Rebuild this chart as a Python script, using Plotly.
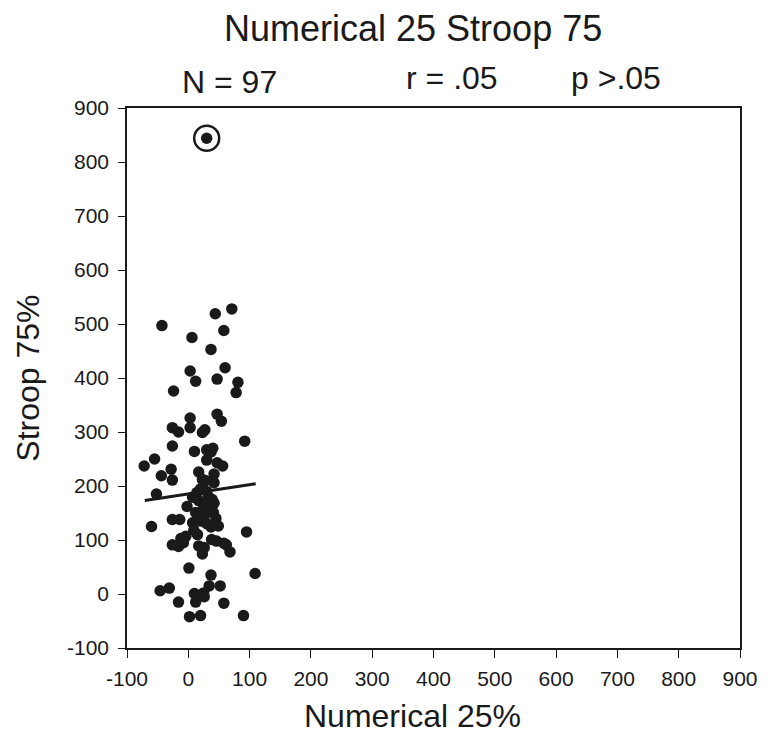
import plotly.graph_objects as go

numerical = [-43, 44, 71, 58, 6, 37, 3, 60, 12, 47, 81, 78, -24, 3, 47, 54, -26, -16, 3, 23, 27, 92,
             -26, 10, 30, 37, -55, -72, -28, -44, -26, 30, 47, 56, 17, 42, 23, 42, -52, 14, 7, 17, 33,
             39, 42, -2, 25, 12, 27, 41, 45, -26, -14, 7, -60, 37, 49, 9, 95, -4, -12, 38, 46, -26, -16,
             17, 26, 58, 62, 23, 68, 1, 37, 109, 34, 52, -46, -31, 10, 25, 26, 12, -16, 58, 2, 20, 90,
             20, 30, 35, 20, 30, -8, 15, 40, 28]
stroop = [497, 519, 528, 488, 475, 453, 413, 419, 394, 398, 392, 373, 376, 326, 333, 320, 308, 300, 308,
          299, 304, 283, 274, 264, 267, 263, 250, 237, 231, 219, 211, 248, 243, 237, 226, 222, 212, 206,
          185, 188, 179, 173, 180, 175, 168, 162, 163, 151, 146, 151, 140, 138, 138, 132, 125, 124, 126,
          118, 115, 107, 103, 101, 98, 91, 88, 89, 86, 94, 91, 74, 78, 48, 35, 38, 15, 15, 6, 11, 1, 2,
          -5, -15, -15, -17, -42, -40, -40, 195, 190, 160, 135, 130, 95, 110, 270, 210]
outlier_x = [30]
outlier_y = [844]
fit_x = [-71, 110]
fit_y = [173, 204]
tick_vals = [-100, 0, 100, 200, 300, 400, 500, 600, 700, 800, 900]
tick_text = ["-100", "0", "100", "200", "300", "400", "500", "600", "700", "800", "900"]

FONT = "Liberation Sans, Arial, Helvetica, sans-serif"
INK = "#1a1a1a"

fig = go.Figure()
fig.add_trace(go.Scatter(x=numerical + outlier_x, y=stroop + outlier_y, mode="markers",
                         marker=dict(size=11.5, color=INK), showlegend=False))
fig.add_trace(go.Scatter(x=outlier_x, y=outlier_y, mode="markers",
                         marker=dict(size=25, color="rgba(0,0,0,0)", line=dict(color=INK, width=2.5)),
                         showlegend=False))
fig.add_trace(go.Scatter(x=fit_x, y=fit_y, mode="lines", line=dict(color=INK, width=3),
                         showlegend=False))

axis_common = dict(range=[-100, 900], tickvals=tick_vals, ticktext=tick_text,
                   showgrid=False, zeroline=False,
                   showline=True, linecolor=INK, linewidth=1.5, mirror=True,
                   ticks="outside", ticklen=7, tickcolor=INK, tickwidth=1.2,
                   tickfont=dict(family=FONT, size=21, color=INK))
fig.update_xaxes(**axis_common)
fig.update_yaxes(**axis_common)
fig.update_xaxes(ticklen=8, ticklabelstandoff=3)
fig.update_yaxes(ticklabelstandoff=5)

ann = [
    dict(text="Numerical 25 Stroop 75", x=0.467, y=1.148, size=36),
    dict(text="N = 97", x=0.168, y=1.048, size=32),
    dict(text="r = .05", x=0.53, y=1.055, size=32),
    dict(text="p >.05", x=0.798, y=1.055, size=32),
    dict(text="Numerical 25%", x=0.466, y=-0.126, size=32),
]
for a in ann:
    fig.add_annotation(text=a["text"], x=a["x"], y=a["y"], xref="paper", yref="paper",
                       showarrow=False, xanchor="center", yanchor="middle",
                       font=dict(family=FONT, size=a["size"], color=INK))
fig.add_annotation(text="Stroop 75%", x=-0.162, y=0.5, xref="paper", yref="paper",
                   showarrow=False, textangle=-90, xanchor="center", yanchor="middle",
                   font=dict(family=FONT, size=32, color=INK))

fig.update_layout(width=770, height=748, margin=dict(l=127, r=18, t=108, b=100),
                  plot_bgcolor="white", paper_bgcolor="white")
fig.write_html("out.html")
